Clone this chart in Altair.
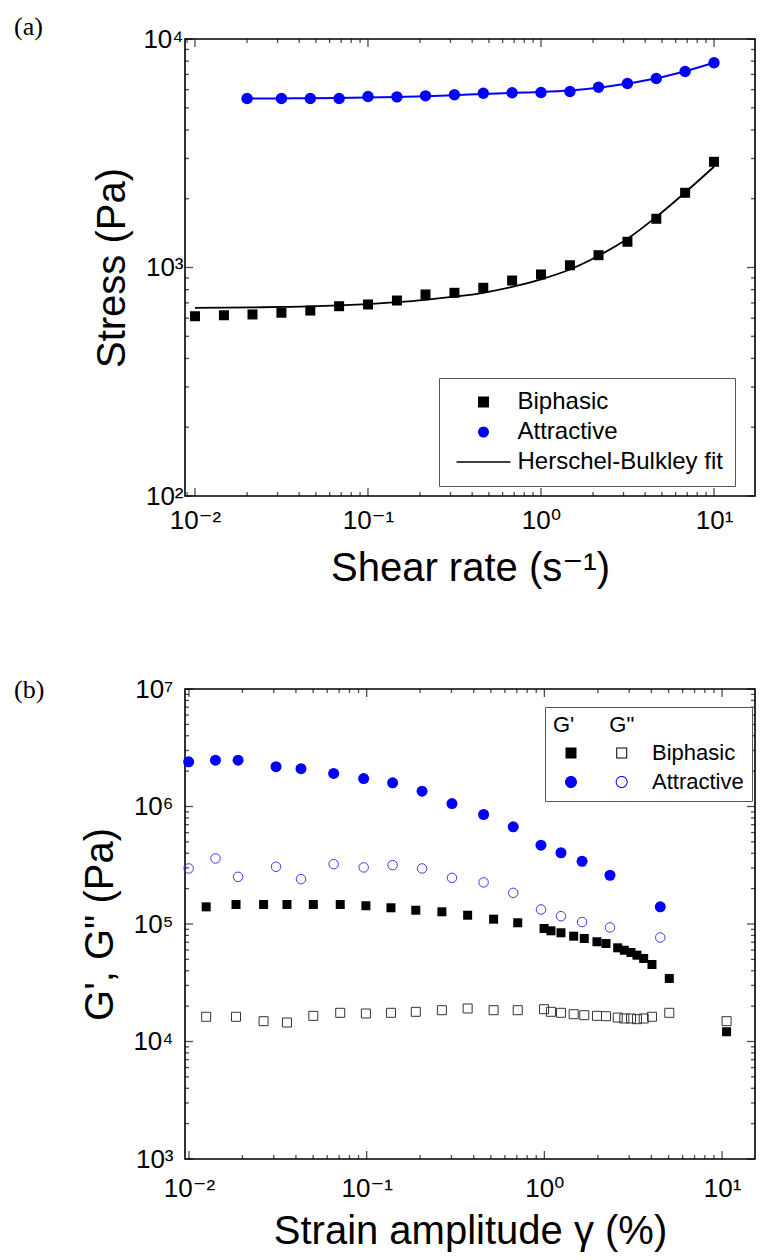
import altair as alt
import pandas as pd

# ---------------- panel (a): flow curves ----------------
shear_biphasic = [0.01, 0.0147, 0.0215, 0.0316, 0.0464, 0.0681, 0.1, 0.147, 0.215, 0.316,
                  0.464, 0.681, 1.0, 1.47, 2.15, 3.16, 4.64, 6.81, 10.0]
stress_biphasic = [612, 618, 623, 634, 648, 677, 689, 717, 762, 775,
                   815, 877, 932, 1023, 1132, 1296, 1634, 2123, 2901]
fit_biphasic = [666, 667, 669, 672, 676, 683, 692, 705, 722, 745,
                775, 822, 888, 980, 1125, 1335, 1665, 2130, 2760]

shear_attractive = [0.02, 0.0316, 0.0464, 0.0681, 0.1, 0.147, 0.215, 0.316, 0.464,
                    0.681, 1.0, 1.47, 2.15, 3.16, 4.64, 6.81, 10.0]
stress_attractive = [5490, 5490, 5490, 5490, 5600, 5580, 5640, 5700, 5790,
                     5815, 5830, 5890, 6150, 6385, 6715, 7210, 7870]
fit_attractive = [5490, 5495, 5505, 5520, 5545, 5575, 5620, 5680, 5750,
                  5810, 5860, 5950, 6120, 6380, 6730, 7230, 7870]

# ---------------- panel (b): amplitude sweeps ----------------
strain_biphasic = [0.0125, 0.0184, 0.0263, 0.0356, 0.0501, 0.071, 0.099, 0.137, 0.189, 0.265,
                   0.37, 0.518, 0.708, 0.996, 1.089, 1.24, 1.462, 1.677, 1.977, 2.222,
                   2.586, 2.817, 3.071, 3.319, 3.621, 4.032, 5.046, 10.6]
gp_biphasic = [1.40e5, 1.466e5, 1.466e5, 1.466e5, 1.466e5, 1.466e5, 1.43e5, 1.374e5, 1.31e5, 1.27e5,
               1.188e5, 1.099e5, 1.024e5, 9.155e4, 8.75e4, 8.42e4, 7.876e4, 7.53e4, 7.06e4, 6.82e4,
               6.27e4, 5.98e4, 5.72e4, 5.43e4, 5.09e4, 4.52e4, 3.44e4, 1.21e4]
gpp_biphasic = [1.623e4, 1.623e4, 1.489e4, 1.451e4, 1.654e4, 1.755e4, 1.731e4, 1.755e4, 1.789e4, 1.847e4,
                1.91e4, 1.847e4, 1.847e4, 1.883e4, 1.789e4, 1.755e4, 1.707e4, 1.674e4, 1.654e4, 1.642e4,
                1.60e4, 1.57e4, 1.57e4, 1.548e4, 1.57e4, 1.623e4, 1.755e4, 1.489e4]

strain_attractive = [0.00996, 0.0141, 0.0189, 0.0309, 0.0427, 0.0652, 0.0962, 0.140, 0.205,
                     0.302, 0.455, 0.668, 0.957, 1.24, 1.63, 2.34, 4.49]
gp_attractive = [2.40e6, 2.48e6, 2.48e6, 2.18e6, 2.10e6, 1.91e6, 1.73e6, 1.59e6, 1.35e6,
                 1.06e6, 8.55e5, 6.72e5, 4.69e5, 4.04e5, 3.42e5, 2.60e5, 1.40e5]
gpp_attractive = [2.97e5, 3.61e5, 2.52e5, 3.07e5, 2.41e5, 3.23e5, 3.03e5, 3.17e5, 2.97e5,
                  2.47e5, 2.26e5, 1.84e5, 1.33e5, 1.165e5, 1.04e5, 9.34e4, 7.67e4]

legend_a_labels = ["Biphasic", "Attractive", "Herschel-Bulkley fit"]
legend_b_labels = ["Biphasic", "Attractive"]

FONT = "Liberation Sans, Arial, DejaVu Sans"
SERIF = "Liberation Serif, Times New Roman, DejaVu Serif"
SUP = "['\u207b\u00b2','\u207b\u00b9','\u2070','\u00b9','\u00b2','\u00b3','\u2074','\u2075','\u2076','\u2077']"
LABEL_EXPR = "'10' + " + SUP + "[round(log(datum.value)/LN10)+2]"


def minors(lo, hi):
    out = []
    for e in range(-3, 8):
        for m in range(2, 10):
            v = float(f"{m}e{e}")
            if lo <= v <= hi:
                out.append(v)
    return out


def main_axis(orient, vals, title, label_pad, title_pad):
    return alt.Axis(orient=orient, values=vals, ticks=False, domain=False, grid=False,
                    labelExpr=LABEL_EXPR, labelFont=FONT, labelFontSize=26, labelColor="black",
                    labelPadding=label_pad, labelFlush=False, labelOverlap=False,
                    title=title, titleFont=FONT, titleFontSize=40, titleFontWeight="normal",
                    titleColor="black", titlePadding=title_pad)


def tick_layers(xscale, yscale, xmaj, xmin, ymaj, ymin, W, H):
    """Inward major (8 px) and minor (4 px) ticks on all four sides, placed by the chart's scales."""
    layers = []
    for vals, L in ((xmaj, 8), (xmin, 4)):
        df = pd.DataFrame({"v": vals})
        for yc in (L / 2, H - L / 2):
            layers.append(alt.Chart(df).mark_tick(color="black", thickness=1.3, size=L).encode(
                x=alt.X("v:Q", scale=xscale, axis=None), y=alt.value(yc)))
    for vals, L in ((ymaj, 8), (ymin, 4)):
        df = pd.DataFrame({"v": vals})
        for xc in (L / 2, W - L / 2):
            layers.append(alt.Chart(df).mark_tick(color="black", thickness=1.3, size=L).encode(
                y=alt.Y("v:Q", scale=yscale, axis=None), x=alt.value(xc)))
    return layers


# ======================= panel (a) =======================
WA, HA = 570, 457
XA_DOM = [0.008755, 17.26]
YA_DOM = [100, 10000]
xa_scale = alt.Scale(type="log", domain=XA_DOM, nice=False)
ya_scale = alt.Scale(type="log", domain=YA_DOM, nice=False)
xa_major = [0.01, 0.1, 1, 10]
ya_major = [100, 1000, 10000]

df_b = pd.DataFrame({"rate": shear_biphasic, "stress": stress_biphasic, "fit": fit_biphasic})
df_a = pd.DataFrame({"rate": shear_attractive, "stress": stress_attractive, "fit": fit_attractive})

fit_b = alt.Chart(df_b).mark_line(color="black", strokeWidth=1.8, interpolate="monotone").encode(
    x=alt.X("rate:Q", scale=xa_scale,
            axis=main_axis("bottom", xa_major, "Shear rate (s\u207b\u00b9)", 11, 15)),
    y=alt.Y("fit:Q", scale=ya_scale,
            axis=main_axis("left", ya_major, "Stress (Pa)", 2, 10)),
)
fit_a = alt.Chart(df_a).mark_line(color="blue", strokeWidth=2, interpolate="monotone").encode(
    x=alt.X("rate:Q", scale=xa_scale, axis=None),
    y=alt.Y("fit:Q", scale=ya_scale, axis=None),
)
pts_b = alt.Chart(df_b).mark_point(shape="square", filled=True, size=100, color="black", opacity=1).encode(
    x=alt.X("rate:Q", scale=xa_scale, axis=None),
    y=alt.Y("stress:Q", scale=ya_scale, axis=None),
)
pts_a = alt.Chart(df_a).mark_point(shape="circle", filled=True, size=130, color="blue", opacity=1).encode(
    x=alt.X("rate:Q", scale=xa_scale, axis=None),
    y=alt.Y("stress:Q", scale=ya_scale, axis=None),
)

LINE_PATH = "M-4.9,-0.15H4.9V0.15H-4.9Z"
legend_a = alt.Legend(orient="none", legendX=254, legendY=339, title=None,
                      fillColor="white", strokeColor="#555", padding=12,
                      labelFont=FONT, labelFontSize=24, labelColor="black", labelLimit=400,
                      labelOffset=22, symbolOffset=20.5, symbolSize=121, symbolOpacity=1,
                      rowPadding=6)
leg_a = alt.Chart(pd.DataFrame({"series": legend_a_labels})).mark_point(filled=True, opacity=0).encode(
    shape=alt.Shape("series:N", sort=legend_a_labels,
                    scale=alt.Scale(domain=legend_a_labels, range=["square", "circle", LINE_PATH]),
                    legend=legend_a),
    color=alt.Color("series:N", sort=legend_a_labels,
                    scale=alt.Scale(domain=legend_a_labels, range=["black", "blue", "black"]),
                    legend=legend_a),
)
lab_a = alt.Chart(pd.DataFrame({"t": ["(a)"]})).mark_text(
    font=SERIF, fontSize=26, align="left", baseline="middle", color="black").encode(
    text="t:N", x=alt.value(-171), y=alt.value(-12))

ticks_a = tick_layers(xa_scale, ya_scale, xa_major, minors(*XA_DOM), ya_major, minors(*YA_DOM), WA, HA)
chart_a = alt.layer(*ticks_a, fit_b, fit_a, pts_b, pts_a, leg_a, lab_a).resolve_axis(
    x="independent", y="independent").properties(width=WA, height=HA)

# ======================= panel (b) =======================
WB, HB = 570, 470
XB_DOM = [0.0095, 15.32]
YB_DOM = [1000, 1e7]
xb_scale = alt.Scale(type="log", domain=XB_DOM, nice=False)
yb_scale = alt.Scale(type="log", domain=YB_DOM, nice=False)
xb_major = [0.01, 0.1, 1, 10]
yb_major = [1e3, 1e4, 1e5, 1e6, 1e7]

dfb_b = pd.DataFrame({"strain": strain_biphasic, "gp": gp_biphasic, "gpp": gpp_biphasic})
dfb_a = pd.DataFrame({"strain": strain_attractive, "gp": gp_attractive, "gpp": gpp_attractive})

gp_b = alt.Chart(dfb_b).mark_point(shape="square", filled=True, size=81, color="black", opacity=1).encode(
    x=alt.X("strain:Q", scale=xb_scale,
            axis=main_axis("bottom", xb_major, "Strain amplitude \u03b3 (%)", 16, 10)),
    y=alt.Y("gp:Q", scale=yb_scale,
            axis=main_axis("left", yb_major, "G', G\" (Pa)", 12, 12)),
)
gpp_b = alt.Chart(dfb_b).mark_point(shape="square", filled=False, size=81, color="#333",
                                     strokeWidth=1, opacity=1).encode(
    x=alt.X("strain:Q", scale=xb_scale, axis=None),
    y=alt.Y("gpp:Q", scale=yb_scale, axis=None),
)
gp_a = alt.Chart(dfb_a).mark_point(shape="circle", filled=True, size=121, color="blue", opacity=1).encode(
    x=alt.X("strain:Q", scale=xb_scale, axis=None),
    y=alt.Y("gp:Q", scale=yb_scale, axis=None),
)
gpp_a = alt.Chart(dfb_a).mark_point(shape="circle", filled=False, size=90, color="#3a3aee",
                                     strokeWidth=1, opacity=1).encode(
    x=alt.X("strain:Q", scale=xb_scale, axis=None),
    y=alt.Y("gpp:Q", scale=yb_scale, axis=None),
)

SQ_PAIR = ("M-1.1,-1.1H1.1V1.1H-1.1Z"
           "M9.04,-1.1H11.24V1.1H9.04Z"
           "M9.24,-0.9V0.9H11.04V-0.9Z")
CI_PAIR = ("M1.2,0A1.2,1.2,0,1,1,-1.2,0A1.2,1.2,0,1,1,1.2,0Z"
           "M11.34,0A1.2,1.2,0,1,1,8.94,0A1.2,1.2,0,1,1,11.34,0Z"
           "M11.14,0A1,1,0,1,0,9.14,0A1,1,0,1,0,11.14,0Z")
legend_b = alt.Legend(orient="none", legendX=360, legendY=18,
                      title="G'\u00a0\u00a0\u00a0\u00a0\u00a0\u2009G\"", titleFont=FONT, titleFontSize=22,
                      titleFontWeight="normal", titleColor="black", titlePadding=5,
                      fillColor="white", strokeColor="#555", padding=8,
                      labelFont=FONT, labelFontSize=22, labelColor="black", labelLimit=400,
                      labelOffset=70, symbolOffset=7, symbolSize=100, symbolOpacity=1,
                      rowPadding=7)
leg_b = alt.Chart(pd.DataFrame({"series": legend_b_labels})).mark_point(filled=True, opacity=0).encode(
    shape=alt.Shape("series:N", sort=legend_b_labels,
                    scale=alt.Scale(domain=legend_b_labels, range=[SQ_PAIR, CI_PAIR]),
                    legend=legend_b),
    color=alt.Color("series:N", sort=legend_b_labels,
                    scale=alt.Scale(domain=legend_b_labels, range=["black", "blue"]),
                    legend=legend_b),
)
lab_b = alt.Chart(pd.DataFrame({"t": ["(b)"]})).mark_text(
    font=SERIF, fontSize=26, align="left", baseline="middle", color="black").encode(
    text="t:N", x=alt.value(-171), y=alt.value(1))

ticks_b = tick_layers(xb_scale, yb_scale, xb_major, minors(*XB_DOM), yb_major, minors(*YB_DOM), WB, HB)
chart_b = alt.layer(*ticks_b, gp_b, gpp_b, gp_a, gpp_a, leg_b, lab_b).resolve_axis(
    x="independent", y="independent").properties(width=WB, height=HB)

chart = alt.concat(chart_a, chart_b, columns=1, spacing=86).resolve_scale(
    color="independent", shape="independent"
).resolve_legend(color="independent", shape="independent").properties(
    padding={"left": 5, "top": 5, "right": 0, "bottom": 0},
    background="white",
).configure_view(stroke="black", strokeWidth=1.6)

chart.save("out.html", embed_options={"renderer": "svg", "actions": False})
